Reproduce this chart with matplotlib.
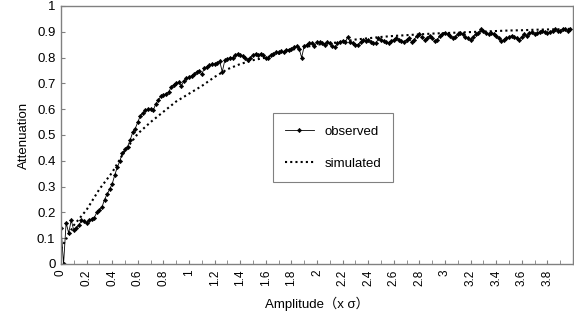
import numpy as np
import matplotlib
matplotlib.use('Agg')
from matplotlib import pyplot as plt
from matplotlib.ticker import MultipleLocator, FuncFormatter

plt.rcParams['font.family'] = ['Liberation Sans', 'Noto Sans CJK JP', 'DejaVu Sans']

# observed: one value every 0.02 from 0 to 3.98
obs_x = np.arange(200) * 0.02
obs_y = [
    0.14, 0.0, 0.16, 0.12, 0.17, 0.13, 0.14, 0.15, 0.17, 0.165,
    0.16, 0.17, 0.175, 0.18, 0.20, 0.21, 0.22, 0.25, 0.27, 0.29,
    0.31, 0.345, 0.375, 0.40, 0.43, 0.445, 0.455, 0.48, 0.51, 0.525,
    0.55, 0.575, 0.585, 0.595, 0.60, 0.60, 0.595, 0.62, 0.635, 0.65,
    0.655, 0.66, 0.665, 0.685, 0.695, 0.70, 0.705, 0.69, 0.71, 0.72,
    0.725, 0.73, 0.735, 0.745, 0.75, 0.735, 0.76, 0.765, 0.77, 0.775,
    0.775, 0.78, 0.785, 0.745, 0.79, 0.795, 0.80, 0.80, 0.81, 0.815,
    0.81, 0.805, 0.80, 0.79, 0.80, 0.81, 0.815, 0.81, 0.815, 0.81,
    0.80, 0.80, 0.81, 0.815, 0.82, 0.82, 0.825, 0.82, 0.83, 0.83,
    0.835, 0.84, 0.845, 0.835, 0.80, 0.845, 0.85, 0.855, 0.855, 0.845,
    0.86, 0.86, 0.855, 0.85, 0.86, 0.855, 0.845, 0.84, 0.855, 0.86,
    0.865, 0.86, 0.88, 0.86, 0.855, 0.85, 0.85, 0.86, 0.87, 0.865,
    0.87, 0.86, 0.855, 0.855, 0.875, 0.87, 0.865, 0.86, 0.855, 0.865,
    0.87, 0.875, 0.87, 0.865, 0.86, 0.87, 0.875, 0.86, 0.87, 0.885,
    0.89, 0.88, 0.87, 0.875, 0.885, 0.875, 0.865, 0.87, 0.885, 0.89,
    0.895, 0.89, 0.885, 0.875, 0.88, 0.89, 0.895, 0.89, 0.88, 0.875,
    0.87, 0.88, 0.89, 0.895, 0.91, 0.905, 0.895, 0.89, 0.895, 0.89,
    0.885, 0.875, 0.865, 0.87, 0.875, 0.88, 0.885, 0.88, 0.875, 0.87,
    0.88, 0.89, 0.885, 0.895, 0.90, 0.89, 0.895, 0.90, 0.905, 0.90,
    0.895, 0.90, 0.905, 0.91, 0.905, 0.905, 0.91, 0.91, 0.905, 0.91,
]

# simulated: one value every 0.1 from 0 to 4.0
sim_x = np.arange(41) * 0.1
sim_y = [
    0.06, 0.15, 0.21, 0.29, 0.355, 0.44, 0.505, 0.55, 0.59, 0.63,
    0.66, 0.69, 0.725, 0.755, 0.775, 0.79, 0.80, 0.815, 0.83, 0.84,
    0.85, 0.855, 0.862, 0.87, 0.875, 0.88, 0.884, 0.887, 0.89, 0.893,
    0.895, 0.897, 0.899, 0.901, 0.903, 0.905, 0.906, 0.908, 0.909, 0.91,
    0.912,
]

fig = plt.figure(figsize=(5.74, 3.33), dpi=100)
ax = fig.add_axes([61 / 574, 1 - 264 / 333, 512 / 574, 258 / 333])

ax.plot(sim_x, sim_y, color='black', linestyle=(0, (1, 1.5)), linewidth=1.5,
        label='simulated')
ax.plot(obs_x, obs_y, color='black', linewidth=0.6, marker='D', markersize=2.2,
        markeredgewidth=0.4, label='observed')

ax.set_xlim(0, 4.0)
ax.set_ylim(0, 1)
ax.xaxis.set_major_locator(MultipleLocator(0.2))
ax.xaxis.set_minor_locator(MultipleLocator(0.1))
ax.yaxis.set_major_locator(MultipleLocator(0.1))
fmt = FuncFormatter(lambda v, p: '%g' % round(v, 2))
ax.xaxis.set_major_formatter(fmt)
ax.yaxis.set_major_formatter(fmt)
ax.tick_params(axis='x', which='both', direction='in', length=3, color='#808080',
               labelrotation=90, labelsize=8.5, pad=4)
ax.tick_params(axis='y', direction='in', length=3, color='#808080', labelsize=9.5, pad=4)
for sp in ax.spines.values():
    sp.set_color('#808080')
    sp.set_linewidth(1)

ax.set_xlabel('Amplitude（x σ）', fontsize=9.5, labelpad=8)
ax.set_ylabel('Attenuation', fontsize=9.5, labelpad=5)

handles, labels = ax.get_legend_handles_labels()
leg = ax.legend(handles[::-1], labels[::-1], loc='center',
                bbox_to_anchor=(333 / 574, 1 - 147.5 / 333),
                bbox_transform=fig.transFigure, fancybox=False, framealpha=1,
                edgecolor='#808080', fontsize=9.5, labelspacing=1.5,
                handlelength=2.2, borderpad=0.9, borderaxespad=0)
leg.get_frame().set_linewidth(0.8)

# the last label (4) is not shown in the original
fig.canvas.draw()
for lab in ax.get_xticklabels():
    if lab.get_text() == '4':
        lab.set_visible(False)

fig.savefig('out.png', dpi=100)
